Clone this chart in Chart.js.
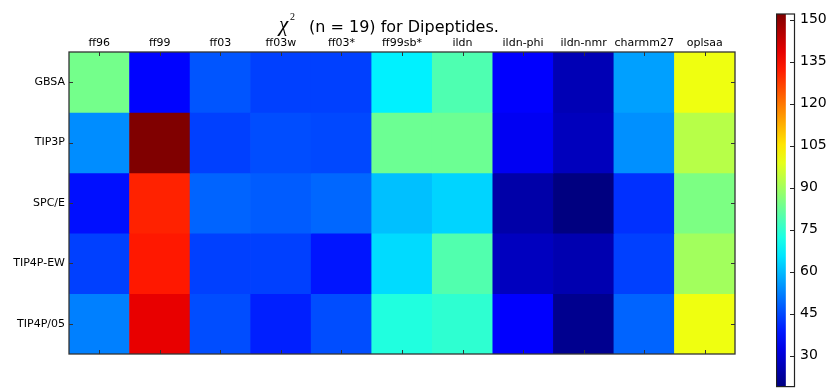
<!DOCTYPE html>
<html><head><meta charset="utf-8">
<script src="https://cdn.jsdelivr.net/npm/chart.js@4"></script>
<style>
html,body{margin:0;padding:0;background:#fff;width:833px;height:389px;overflow:hidden;position:relative;}
#main{position:absolute;left:0;top:0;}
#cb{position:absolute;left:776px;top:0;}
</style></head>
<body>
<canvas id="main" width="833" height="389"></canvas>
<canvas id="cb" width="57" height="400"></canvas>
<script>
const columns = ['ff96','ff99','ff03','ff03w','ff03*','ff99sb*','ildn','ildn-phi','ildn-nmr','charmm27','oplsaa'];
const rows = ['GBSA','TIP3P','SPC/E','TIP4P-EW','TIP4P/05'];
const gbsa    = [84, 36, 46.7, 44, 44, 67, 79, 35.6, 26, 56.5, 100];
const tip3p   = [54, 152, 44, 45.6, 45, 83, 83, 34, 27, 54.4, 92.8];
const spce    = [37.6, 131, 48.7, 47.6, 49, 60.6, 63.3, 24.3, 19, 41.9, 85];
const tip4pew = [44, 132.3, 44, 44, 38.3, 64.2, 79.5, 27.3, 25.3, 44, 90];
const tip4p05 = [52.3, 138.4, 45.6, 39.7, 45.6, 73, 74.9, 35.6, 21, 48.7, 100];
const rowValues = [gbsa, tip3p, spce, tip4pew, tip4p05];
const vmin = 19, vmax = 152;
const colorbarTicks = [30, 45, 60, 75, 90, 105, 120, 135, 150];

function clip(v){return Math.max(0, Math.min(1, v));}
function jet(t){
  const r = clip(1.5 - Math.abs(4*t - 3));
  const g = clip(1.5 - Math.abs(4*t - 2));
  const b = clip(1.5 - Math.abs(4*t - 1));
  return 'rgb(' + Math.round(r*255) + ',' + Math.round(g*255) + ',' + Math.round(b*255) + ')';
}
function colorOf(v){return jet((v - vmin) / (vmax - vmin));}

const FONT = "'DejaVu Sans', sans-serif";

const datasets = rows.map((r, i) => ({
  label: r,
  data: columns.map(() => [i, i + 1]),
  backgroundColor: rowValues[i].map(colorOf),
  borderWidth: 0,
  barPercentage: 1.0,
  categoryPercentage: 1.0,
  grouped: false
}));

const decorPlugin = {
  id: 'decor',
  afterDatasetsDraw(chart) {
    const ctx = chart.ctx, a = chart.chartArea;
    const xs = chart.scales.x, ys = chart.scales.y;
    ctx.save();
    ctx.strokeStyle = '#333';
    ctx.lineWidth = 1;
    ctx.beginPath();
    columns.forEach((c, i) => {
      const px = Math.round(xs.getPixelForValue(i)) + 0.5;
      ctx.moveTo(px, a.top); ctx.lineTo(px, a.top + 4);
      ctx.moveTo(px, a.bottom); ctx.lineTo(px, a.bottom - 4);
    });
    rows.forEach((r, i) => {
      const py = Math.round(ys.getPixelForValue(i + 0.5)) + 0.5;
      ctx.moveTo(a.left, py); ctx.lineTo(a.left + 4, py);
      ctx.moveTo(a.right, py); ctx.lineTo(a.right - 4, py);
    });
    ctx.stroke();
    ctx.lineWidth = 1.3;
    ctx.strokeRect(a.left, a.top, a.right - a.left, a.bottom - a.top);
    // title
    ctx.fillStyle = '#000';
    ctx.textBaseline = 'alphabetic';
    ctx.textAlign = 'left';
    ctx.font = "italic 21px 'Liberation Serif', serif";
    ctx.fillText('\u03c7', 279, 31);
    ctx.font = "10px 'Liberation Serif', serif";
    ctx.fillText('2', 290, 20);
    ctx.font = "16px " + FONT;
    ctx.fillText('(n = 19) for Dipeptides.', 309, 32);
    ctx.restore();
  }
};

new Chart(document.getElementById('main'), {
  type: 'bar',
  data: { labels: columns, datasets },
  options: {
    responsive: false,
    animation: false,
    events: [],
    layout: { padding: { left: 0, top: 0, right: 98, bottom: 35 } },
    plugins: { legend: { display: false }, tooltip: { enabled: false }, title: { display: false } },
    scales: {
      x: {
        type: 'category',
        position: 'top',
        offset: true,
        grid: { display: false, drawTicks: false },
        border: { display: false },
        ticks: { font: { family: FONT, size: 11 }, color: '#000', padding: 2, maxRotation: 0, autoSkip: false },
        afterFit(s) { s.height = 52; }
      },
      y: {
        type: 'linear',
        min: 0, max: 5, reverse: true,
        grid: { display: false, drawTicks: false },
        border: { display: false },
        afterBuildTicks(s) { s.ticks = rows.map((r, i) => ({ value: i + 0.5 })); },
        ticks: {
          font: { family: FONT, size: 11 }, color: '#000', padding: 4,
          callback: (v, i) => rows[i]
        },
        afterFit(s) { s.width = 69; }
      }
    }
  },
  plugins: [decorPlugin]
});

const cbPlugin = {
  id: 'cbdecor',
  afterDatasetsDraw(chart) {
    const ctx = chart.ctx, a = chart.chartArea, ys = chart.scales.y;
    ctx.save();
    ctx.strokeStyle = '#222';
    ctx.lineWidth = 1;
    ctx.beginPath();
    colorbarTicks.forEach(v => {
      const py = Math.round(ys.getPixelForValue(v)) + 0.5;
      ctx.moveTo(a.right, py); ctx.lineTo(a.right - 5, py);
    });
    ctx.stroke();
    ctx.lineWidth = 1.2;
    ctx.strokeRect(a.left + 0.5, a.top, a.right - a.left - 1, a.bottom - a.top);
    ctx.restore();
  }
};

new Chart(document.getElementById('cb'), {
  type: 'bar',
  data: {
    labels: ['cb'],
    datasets: [{
      data: [[vmin, vmax]],
      borderWidth: 0,
      barPercentage: 1.0,
      categoryPercentage: 1.0,
      backgroundColor(c) {
        const ch = c.chart;
        if (!ch.chartArea) return '#000';
        const ys = ch.scales.y;
        const g = ch.ctx.createLinearGradient(0, ys.getPixelForValue(vmin), 0, ys.getPixelForValue(vmax));
        for (let k = 0; k <= 20; k++) { g.addColorStop(k / 20, jet(k / 20)); }
        return g;
      }
    }]
  },
  options: {
    responsive: false,
    animation: false,
    events: [],
    layout: { padding: { left: 0, top: 14, right: 0, bottom: 10 } },
    plugins: { legend: { display: false }, tooltip: { enabled: false } },
    scales: {
      x: { display: false, offset: false },
      y: {
        type: 'linear', position: 'right', min: vmin, max: vmax,
        grid: { display: false, drawTicks: false },
        border: { display: false },
        afterBuildTicks(s) { s.ticks = colorbarTicks.map(v => ({ value: v })); },
        ticks: { font: { family: FONT, size: 14 }, color: '#000', padding: 5 },
        afterFit(s) { s.width = 38; }
      }
    }
  },
  plugins: [cbPlugin]
});
</script>
</body></html>
